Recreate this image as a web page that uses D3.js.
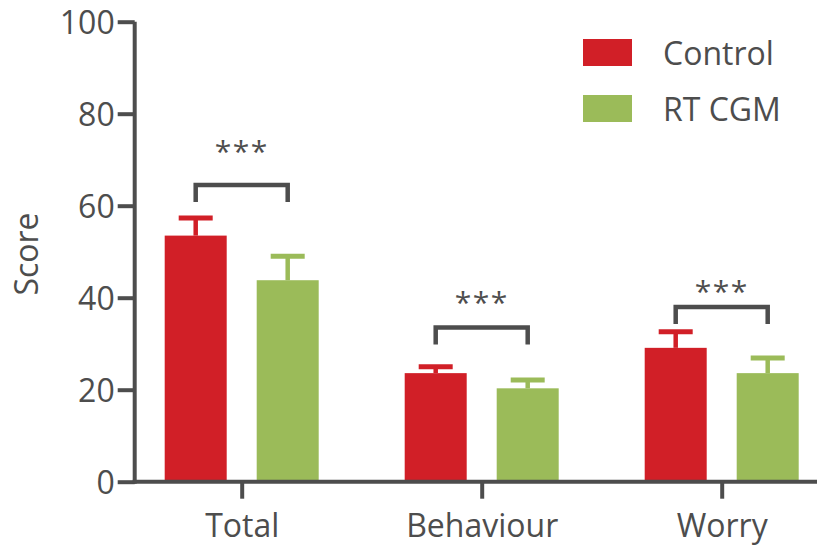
<!DOCTYPE html>
<html>
<head>
<meta charset="utf-8">
<script src="https://cdn.jsdelivr.net/npm/d3@7"></script>
<style>
  html, body { margin: 0; padding: 0; background: #fff; }
  svg { display: block; }
  text { font-family: "Open Sans", "Noto Sans", sans-serif; fill: #4d4d4d; }
</style>
</head>
<body>
<svg id="chart" width="817" height="546"></svg>
<script>
// Questionnaire scores by subscale, mean with upper error bar
const categories = ["Total", "Behaviour", "Worry"];
const seriesNames = ["Control", "RT CGM"];
const controlMean = [53.5, 23.6, 29.1];
const controlErr = [3.8, 1.4, 3.5];
const rtcgmMean = [43.8, 20.3, 23.6];
const rtcgmErr = [5.2, 1.8, 3.3];
// Significance brackets: top of bracket, and where the "***" sits
const bracketTop = [64.5, 33.5, 38.0];
const bracketLeg = 3.7;
const starLevel = [72.5, 39.7, 42.2];
const starLabel = "***";
const yTicks = [0, 20, 40, 60, 80, 100];

const colors = { "Control": "#d11f27", "RT CGM": "#9bbb59" };
const ink = "#4d4d4d";
const fontSize = 32;

const svg = d3.select("#chart");

const y = d3.scaleLinear().domain([0, 100]).range([481.7, 21.7]);
const x = d3.scalePoint().domain(categories).range([241.7, 721.7]);
const xs = d3.scaleBand().domain(seriesNames).range([-77, 77]).paddingInner(30 / 92);

const rows = categories.map((c, i) => ({
  cat: c,
  series: [
    { name: "Control", mean: controlMean[i], err: controlErr[i] },
    { name: "RT CGM", mean: rtcgmMean[i], err: rtcgmErr[i] }
  ],
  top: bracketTop[i],
  star: starLevel[i]
}));

// Bars and error bars
const groups = svg.selectAll("g.cat").data(rows).join("g")
  .attr("class", "cat")
  .attr("transform", d => `translate(${x(d.cat)},0)`);

const bars = groups.selectAll("g.bar").data(d => d.series).join("g").attr("class", "bar");

bars.append("line")
  .attr("x1", d => xs(d.name) + xs.bandwidth() / 2)
  .attr("x2", d => xs(d.name) + xs.bandwidth() / 2)
  .attr("y1", d => y(d.mean))
  .attr("y2", d => y(d.mean + d.err))
  .attr("stroke", d => colors[d.name])
  .attr("stroke-width", 4.5);

bars.append("line")
  .attr("x1", d => xs(d.name) + xs.bandwidth() / 2 - 17)
  .attr("x2", d => xs(d.name) + xs.bandwidth() / 2 + 17)
  .attr("y1", d => y(d.mean + d.err))
  .attr("y2", d => y(d.mean + d.err))
  .attr("stroke", d => colors[d.name])
  .attr("stroke-width", 5);

bars.append("rect")
  .attr("x", d => xs(d.name))
  .attr("width", xs.bandwidth())
  .attr("y", d => y(d.mean))
  .attr("height", d => y(0) - y(d.mean))
  .attr("fill", d => colors[d.name]);

// Significance brackets
groups.append("path")
  .attr("d", d => {
    const l = xs("Control") + xs.bandwidth() / 2;
    const r = xs("RT CGM") + xs.bandwidth() / 2;
    return `M${l},${y(d.top - bracketLeg)}V${y(d.top)}H${r}V${y(d.top - bracketLeg)}`;
  })
  .attr("fill", "none")
  .attr("stroke", ink)
  .attr("stroke-width", 4.5);

groups.append("text")
  .attr("x", 0)
  .attr("y", d => y(d.star) + 14)
  .attr("text-anchor", "middle")
  .attr("font-size", 30)
  .attr("letter-spacing", 1.5)
  .text(starLabel);

// Y axis
const yAxis = svg.append("g")
  .attr("transform", "translate(134.7,0)")
  .call(d3.axisLeft(y).tickValues(yTicks).tickSize(17).tickPadding(3).tickFormat(d3.format("d")));
yAxis.select(".domain").attr("d", `M0,${y(100)}V${y(0) + 2}`).attr("stroke", ink).attr("stroke-width", 4);
yAxis.selectAll(".tick line").attr("stroke", ink).attr("stroke-width", 4);
yAxis.selectAll(".tick text").attr("font-size", fontSize).attr("fill", ink).attr("dy", "0.36em")
  .style("font-family", '"Open Sans", sans-serif');

// X axis
const xAxis = svg.append("g")
  .attr("transform", `translate(0,${y(0)})`)
  .call(d3.axisBottom(x).tickSize(17).tickPadding(18));
xAxis.select(".domain").attr("d", "M132.7,0H817").attr("stroke", ink).attr("stroke-width", 4);
xAxis.selectAll(".tick line").attr("stroke", ink).attr("stroke-width", 4);
xAxis.selectAll(".tick text").attr("font-size", fontSize).attr("fill", ink).attr("dy", 0)
  .attr("y", 55.5)
  .style("font-family", '"Open Sans", sans-serif');

// Y axis title
svg.append("text")
  .attr("transform", "translate(38,254) rotate(-90)")
  .attr("text-anchor", "middle")
  .attr("font-size", fontSize)
  .text("Score");

// Legend
const legend = svg.append("g").selectAll("g").data(seriesNames).join("g")
  .attr("transform", (d, i) => `translate(583,${39 + i * 56})`);
legend.append("rect").attr("width", 49).attr("height", 27).attr("fill", d => colors[d]);
legend.append("text").attr("x", 80).attr("y", 26).attr("font-size", fontSize).text(d => d);
</script>
</body>
</html>
